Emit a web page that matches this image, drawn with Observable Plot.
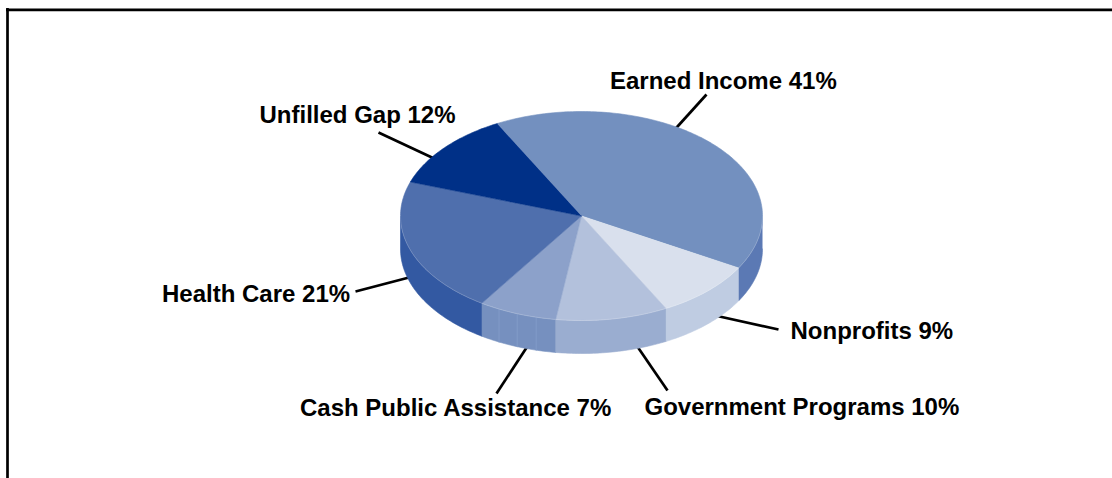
<!DOCTYPE html>
<html>
<head>
<meta charset="utf-8">
<style>html,body{margin:0;padding:0;background:#fff}svg{display:block}</style>
<script src="https://cdn.jsdelivr.net/npm/d3@7"></script>
<script src="https://cdn.jsdelivr.net/npm/@observablehq/plot@0.6"></script>
</head>
<body>
<script>
// Data, clockwise from the first slice
const categories = ["Earned Income", "Nonprofits", "Government Programs", "Cash Public Assistance", "Health Care", "Unfilled Gap"];
const shares = [41, 9, 10, 7, 21, 12];

// Styles per slice
const topColors = ["#7390bf", "#d9e0ed", "#b3c1dc", "#8ca1ca", "#4f6fad", "#003087"];
const sideColors = ["#5b79b4", "#bfcce2", "#9aadd0", "#7690bf", "#3359a2", "#002a78"];
const sidePanels = [1, 1, 1, 4, 1, 1];

// Layout of the tilted pie
const W = 1112, H = 478;
const pie = {cx: 581, cy: 215.5, rx: 181, ry: 104.5, depth: 33, start: -27.8};
const labelPos = [[609.5, 81], [790, 331], [644, 407], [299.5, 408], [161.5, 294], [259, 115]];
const leaderEnds = [[[668, 136], [706, 94]], [[710, 314], [778, 329]], [[630, 336], [667, 390]], [[534, 335], [496, 393]], [[420, 274], [355, 291]], [[440, 161], [378, 132]]];

const rim = (deg, drop = 0) => {
  const a = deg * Math.PI / 180;
  return [pie.cx + pie.rx * Math.sin(a), pie.cy - pie.ry * Math.cos(a) + drop];
};
const arc = (a0, a1, drop = 0) => {
  const pts = d3.range(a0, a1, 1).concat([a1]);
  return pts.map((a) => rim(a, drop));
};

// Turn the shares into angular extents
let acc = pie.start;
const slices = shares.map((s, i) => {
  const a0 = acc;
  acc += s * 3.6;
  return {i, a0, a1: acc};
});

// Top faces
const topRows = slices.flatMap(({i, a0, a1}) =>
  [[pie.cx, pie.cy], ...arc(a0, a1)].map(([x, y]) => ({id: i, x, y, color: topColors[i]})));

// Side wall: the part of each slice facing the viewer (90° to 270°)
const wallRows = [], seamRows = [];
slices.forEach(({i, a0, a1}) => {
  const lo = Math.max(a0, 90), hi = Math.min(a1, 270);
  if (hi <= lo) return;
  const n = sidePanels[i];
  const pts = [...arc(lo, hi), ...arc(lo, hi, pie.depth).reverse()];
  pts.forEach(([x, y]) => wallRows.push({id: i, x, y, color: sideColors[i]}));
  for (let k = 1; k < n; k++) {
    const a = lo + (hi - lo) * k / n;
    [rim(a), rim(a, pie.depth)].forEach(([x, y]) => seamRows.push({id: `${i}-${k}`, x, y}));
  }
});
const rimRows = arc(90, 270).map(([x, y]) => ({x, y}));

const leaderRows = categories.map((c, i) => ({
  x1: leaderEnds[i][0][0], y1: leaderEnds[i][0][1],
  x2: leaderEnds[i][1][0], y2: leaderEnds[i][1][1]
}));
const labelRows = categories.map((c, i) => ({
  text: `${c} ${shares[i]}%`, x: labelPos[i][0], y: labelPos[i][1]
}));

const face = (rows) => Plot.line(rows, {x: "x", y: "y", z: "id", fill: "color", stroke: "color", strokeWidth: 0.6, curve: "linear"});

const chart = Plot.plot({
  width: W, height: H,
  margin: 0,
  x: {domain: [0, W], range: [0, W], axis: null},
  y: {domain: [0, H], range: [0, H], axis: null},
  style: {background: "#fff", fontFamily: "'Liberation Sans', Arial, sans-serif"},
  marks: [
    Plot.ruleY([9.3], {x1: 6, x2: W, stroke: "#000", strokeWidth: 2.7}),
    Plot.ruleX([7], {y1: 8, y2: H, stroke: "#000", strokeWidth: 2.7}),
    Plot.link(leaderRows, {x1: "x1", y1: "y1", x2: "x2", y2: "y2", stroke: "#000", strokeWidth: 2.7}),
    face(wallRows),
    Plot.line(seamRows, {x: "x", y: "y", z: "id", stroke: "#819bc8", strokeWidth: 1}),
    face(topRows),
    Plot.line(rimRows, {x: "x", y: "y", stroke: "#fff", strokeOpacity: 0.18, strokeWidth: 1}),
    Plot.text(labelRows, {x: "x", y: "y", text: "text", textAnchor: "start", fontSize: 24, fontWeight: "bold", fill: "#000"})
  ]
});
document.body.appendChild(chart);
</script>
</body>
</html>
